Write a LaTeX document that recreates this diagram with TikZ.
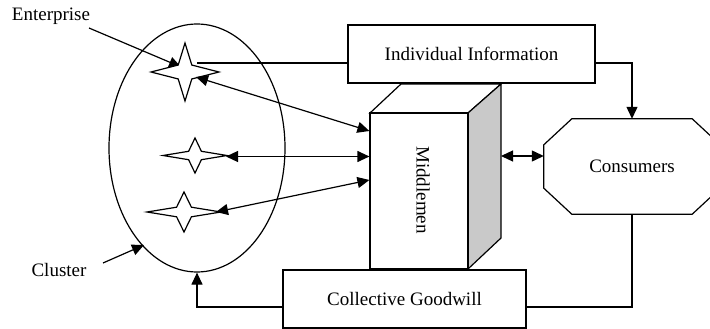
\documentclass[tikz,border=0pt]{standalone}
\usepackage{fontspec}
\setmainfont{Liberation Serif}
\usetikzlibrary{arrows.meta,shapes.geometric,calc}
\tikzset{
  line/.style={line width=1.2pt, line join=miter},
  arr/.style={line, -{Triangle[length=12pt,width=11pt]}},
  darr/.style={line, {Triangle[length=12pt,width=11pt]}-{Triangle[length=12pt,width=11pt]}},
  txt/.style={font=\fontsize{19}{22}\selectfont, inner sep=0pt},
  boxnode/.style={line, draw, fill=white, inner sep=0pt, font=\fontsize{19}{22}\selectfont},
  pics/fstar/.style 2 args={code={
    \draw[line, fill=white] (-#1,0) -- ({-0.2*#1},{0.24*#2}) -- (0,#2) -- ({0.2*#1},{0.24*#2}) -- (#1,0)
      -- ({0.2*#1},{-0.24*#2}) -- (0,-#2) -- ({-0.2*#1},{-0.24*#2}) -- cycle;
  }}
}
\begin{document}
\begin{tikzpicture}[x=1pt,y=-1pt]
\useasboundingbox (0,0) rectangle (710,329);
\clip (0,0) rectangle (710,329);

% cluster ellipse
\node[line, draw, ellipse, minimum width=176pt, minimum height=248pt, inner sep=0pt] (cl) at (197,148) {};

% labels
\node[txt] (entlab) at (51,16) {Enterprise};
\node[txt] (cllab) at (59,270) {Cluster};
\coordinate (e0) at (89,28);
\coordinate (e1) at (181,67);
\coordinate (c0) at (103,263);
\coordinate (c1) at (144,245);
\draw[arr] (e0) -- (e1);
\draw[arr] (c0) -- (c1);

% stars
\pic at (185,72) {fstar={34}{29}};
\pic at (195,155.5) {fstar={32}{17.5}};
\pic at (184,212) {fstar={37}{20}};
\coordinate (s1r) at (197,63);
\coordinate (s1a) at (196,77);
\coordinate (s2a) at (226,156.5);
\coordinate (s3a) at (216,212);

% middlemen cube
\draw[line, fill=white] (370,113) -- (401,84) -- (501,84) -- (468,113) -- cycle;
\draw[line, fill=black!21] (468,113) -- (501,84) -- (501,238) -- (468,269) -- cycle;
\node[boxnode, minimum width=98pt, minimum height=156pt] (mid) at (419,191) {};
\node[txt, rotate=-90] (midtxt) at (423,190) {Middlemen};
\coordinate (sd) at (501,156);

% boxes
\node[boxnode, minimum width=247pt, minimum height=58pt] (info) at (471.5,54) {Individual Information};
\node[boxnode, minimum width=243pt, minimum height=58pt] (gw) at (404.5,299) {Collective Goodwill};

% consumers octagon
\node[txt, minimum width=176pt, minimum height=95pt] (cons) at (632,166.5) {Consumers};
\draw[line] ([xshift=28pt]cons.north west) -- ([xshift=-28pt]cons.north east)
  -- ([yshift=-26pt]cons.north east) -- ([yshift=26pt]cons.south east)
  -- ([xshift=-28pt]cons.south east) -- ([xshift=28pt]cons.south west)
  -- ([yshift=26pt]cons.south west) -- ([yshift=-26pt]cons.north west) -- cycle;

% connectors
\draw[line] (s1r) -- (info.west |- s1r);
\draw[arr] (info.east |- s1r) -| (cons.north);
\draw[darr] (s1a) -- (mid.west |- 0,131);
\draw[darr] (s2a) -- (mid.west |- 0,156.5);
\draw[darr] (s3a) -- (mid.west |- 0,180);
\draw[darr] (sd) -- (cons.west |- sd);
\draw[line] (cons.south) |- (gw.east |- 0,307);
\draw[arr] (gw.west |- 0,307) -| (cl.south);
\end{tikzpicture}
\end{document}
